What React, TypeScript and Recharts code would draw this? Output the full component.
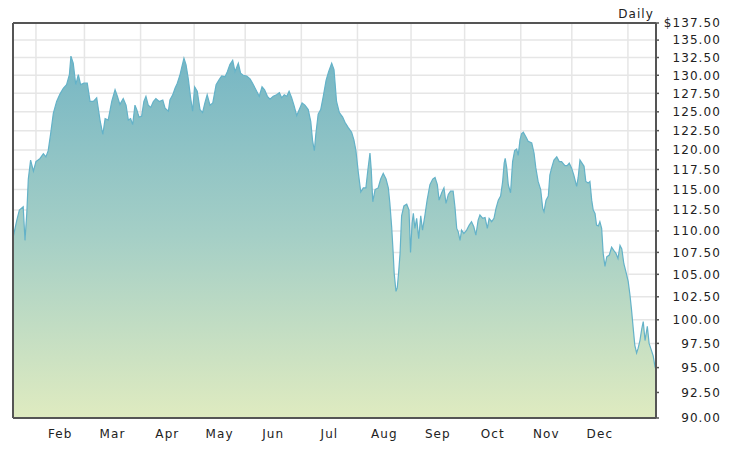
import React from 'react';
import { AreaChart, Area, XAxis, YAxis, CartesianGrid, ReferenceLine } from 'recharts';

// trading-day position of each reading (0 = first day shown)
const tradingDay = [
  0, 1.5, 2.5, 4.0, 4.7, 5.4, 6.0, 6.9, 8.0, 9.0, 10.6, 11.9, 12.9, 13.8, 14.8, 15.8, 17.1, 18.4, 19.7, 21.0,
  22.1, 22.7, 23.6, 24.6, 25.6, 26.5, 27.8, 29.1, 30.2, 31.5, 32.8, 34.1, 35.2, 36.1, 37.3, 38.7, 40.0, 40.9, 41.9, 43.2,
  44.3, 45.2, 46.1, 46.9, 47.8, 48.5, 49.4, 50.4, 51.3, 52.1, 53.0, 54.0, 55.0, 56.0, 57.3, 58.7, 59.6, 60.9, 61.5, 62.6,
  63.5, 64.4, 65.4, 66.2, 67.0, 67.8, 68.7, 69.6, 70.4, 71.2, 72.2, 73.3, 74.3, 75.2, 76.1, 77.2, 78.3, 79.6, 80.8, 81.8,
  83.1, 84.0, 85.0, 86.1, 87.0, 88.3, 89.2, 90.2, 91.6, 92.9, 93.9, 95.2, 96.5, 97.6, 98.6, 99.7, 100.7, 102.0, 103.3, 104.4,
  105.3, 106.3, 107.3, 108.2, 109.2, 110.1, 111.2, 112.2, 113.3, 114.4, 115.7, 116.7, 117.4, 118.1, 118.7, 119.6, 120.6, 121.6, 122.7, 123.7,
  124.9, 125.8, 126.8, 127.9, 129.2, 130.1, 131.4, 132.7, 133.6, 134.4, 135.3, 136.3, 137.3, 138.3, 139.1, 139.9, 140.4, 141.0, 141.9, 143.1,
  144.1, 145.1, 146.2, 147.1, 147.7, 148.4, 149.0, 149.4, 150.1, 150.6, 151.1, 151.7, 152.3, 153.2, 154.3, 155.2, 155.8, 156.4, 156.9, 157.5,
  158.2, 159.0, 159.8, 160.5, 161.4, 162.3, 163.4, 164.5, 165.4, 166.3, 167.0, 168.0, 168.9, 169.7, 170.6, 171.5, 172.5, 173.2, 173.9, 174.5,
  175.2, 175.8, 176.7, 177.8, 178.8, 179.7, 180.6, 181.4, 182.3, 183.0, 184.1, 185.0, 185.9, 186.6, 187.6, 188.5, 189.3, 190.2, 191.1, 191.9,
  192.5, 192.9, 193.5, 194.1, 195.0, 195.8, 196.6, 197.4, 198.0, 198.7, 199.3, 200.0, 201.0, 201.9, 203.3, 204.2, 204.9, 205.8, 206.8, 207.6,
  208.1, 208.9, 209.8, 210.4, 211.1, 212.0, 213.1, 214.1, 215.0, 216.3, 217.2, 218.0, 218.9, 219.8, 220.9, 221.5, 222.2, 223.0, 223.8, 224.5,
  225.4, 226.1, 226.8, 227.4, 228.1, 228.7, 229.4, 230.0, 230.7, 231.3, 232.0, 232.7, 233.7, 234.6, 235.5, 236.3, 237.1, 237.9, 238.6, 239.4,
  240.2, 241.1, 241.8, 242.4, 243.1, 243.7, 244.4, 245.0, 245.7, 246.4, 247.0, 247.7, 248.6, 249.3, 250.3, 250.9, 251.6, 252.0,
];

// daily closing price ($)
const price = [
  109.2, 111.3, 112.5, 112.9, 108.9, 112.1, 116.3, 118.7, 117.3, 118.5, 118.9, 119.5, 119.1, 119.9, 122.2, 124.8, 126.4, 127.4, 128.2, 128.7,
  130.1, 132.7, 131.7, 128.7, 130.1, 128.7, 128.9, 128.9, 126.4, 126.4, 126.9, 123.9, 122.0, 124.1, 123.9, 126.4, 128.0, 127.1, 126.0, 126.8,
  125.9, 123.9, 124.1, 123.3, 125.9, 125.3, 124.3, 124.4, 126.4, 127.1, 125.9, 125.6, 126.4, 126.8, 126.4, 126.6, 125.5, 125.1, 126.6, 127.3,
  128.2, 128.9, 130.0, 131.2, 132.4, 131.5, 129.5, 126.9, 125.1, 128.4, 127.8, 125.3, 124.9, 126.2, 127.3, 125.9, 126.2, 128.7, 129.4, 129.9,
  129.8, 130.5, 131.5, 132.1, 130.5, 131.7, 130.3, 130.0, 129.9, 129.5, 128.9, 128.0, 127.1, 128.4, 128.0, 127.1, 126.7, 127.1, 127.3, 127.6,
  126.9, 127.3, 127.1, 127.8, 126.9, 125.9, 124.5, 125.3, 126.2, 125.9, 125.3, 123.7, 121.2, 119.9, 122.1, 124.7, 125.3, 127.1, 129.3, 130.5,
  131.7, 130.8, 126.4, 124.9, 124.3, 123.6, 122.9, 122.3, 121.3, 119.9, 117.2, 114.7, 115.2, 115.2, 117.5, 119.6, 117.5, 113.5, 115.0, 115.2,
  116.3, 117.0, 116.3, 115.2, 113.3, 110.5, 107.4, 105.1, 103.1, 103.5, 105.1, 107.4, 111.8, 113.0, 113.2, 112.5, 107.5, 110.9, 112.1, 110.3,
  111.5, 109.1, 111.8, 110.1, 111.8, 113.7, 115.6, 116.3, 116.5, 115.6, 113.7, 114.6, 115.2, 113.3, 114.4, 114.8, 114.8, 112.9, 110.3, 109.9,
  108.9, 110.1, 109.7, 110.1, 110.7, 111.1, 110.5, 109.5, 111.3, 111.9, 111.5, 111.6, 110.3, 111.5, 111.1, 111.5, 112.7, 113.7, 114.2, 116.0,
  118.3, 118.9, 117.7, 115.6, 114.6, 118.5, 119.9, 120.1, 119.3, 121.3, 122.1, 122.3, 121.7, 121.1, 120.9, 119.6, 117.7, 116.0, 115.0, 112.7,
  112.3, 113.7, 114.2, 116.8, 117.7, 118.7, 119.1, 118.5, 118.5, 118.0, 118.0, 118.3, 117.7, 116.8, 115.4, 116.5, 118.7, 118.3, 117.9, 116.0,
  115.8, 116.0, 113.7, 112.5, 112.1, 110.7, 110.6, 111.1, 110.3, 107.4, 105.9, 107.0, 107.2, 108.1, 107.7, 107.4, 106.8, 108.3, 107.9, 106.2,
  105.3, 104.2, 102.7, 101.1, 99.0, 97.3, 96.5, 97.0, 97.8, 99.0, 99.8, 97.8, 99.3, 97.5, 96.7, 96.2, 95.1, 94.8,
];

// first trading day of each month (Feb .. next Jan), in trading-day units
const monthStarts = [9, 28, 50, 71, 91, 113, 135, 156, 177, 199, 219, 241];
const monthLabels = ['Feb', 'Mar', 'Apr', 'May', 'Jun', 'Jul', 'Aug', 'Sep', 'Oct', 'Nov', 'Dec'];

const yTicks = [
  90, 92.5, 95, 97.5, 100, 102.5, 105, 107.5, 110, 112.5, 115, 117.5, 120, 122.5, 125, 127.5, 130, 132.5, 135, 137.5,
];

const X_DOMAIN: [number, number] = [0, 252];
const Y_DOMAIN: [number, number] = [90, 137.5];

const data = tradingDay.map((d, i) => ({ d, price: price[i] }));
const monthMids = monthLabels.map((_, i) => (monthStarts[i] + monthStarts[i + 1]) / 2);

const FONT = 'DejaVu Sans, Verdana, sans-serif';
const AXIS_COLOR = '#555';
const TEXT_COLOR = '#222';

const formatPrice = (v: number) => (v === Y_DOMAIN[1] ? '$' : '') + v.toFixed(2);

const PriceTick = (props: any) => {
  const { x, y, payload } = props;
  return (
    <text
      x={x + 59}
      y={y}
      dy="0.355em"
      textAnchor="end"
      fill={TEXT_COLOR}
      fontSize={12}
      fontFamily={FONT}
      letterSpacing={1.1}
    >
      {formatPrice(payload.value)}
    </text>
  );
};

export default function App() {
  return (
    <div style={{ position: 'absolute', left: 0, top: 0, width: 741, height: 450, background: '#fff' }}>
      <div
        style={{
          position: 'absolute',
          left: 0,
          top: 8,
          width: 654,
          textAlign: 'right',
          fontFamily: FONT,
          fontSize: 12,
          lineHeight: '12px',
          letterSpacing: 1.1,
          color: TEXT_COLOR,
        }}
      >
        Daily
      </div>
      <AreaChart width={741} height={450} data={data} margin={{ top: 23, right: 0, bottom: 0, left: 13 }}>
        <defs>
          <linearGradient id="priceFill" x1="0" y1="0" x2="0" y2="1">
            <stop offset="0%" stopColor="#76b6c4" />
            <stop offset="50%" stopColor="#a5cfc6" />
            <stop offset="100%" stopColor="#dfebc0" />
          </linearGradient>
        </defs>
        <XAxis
          xAxisId="grid"
          dataKey="d"
          type="number"
          domain={X_DOMAIN}
          ticks={monthStarts}
          allowDataOverflow
          hide
        />
        <CartesianGrid xAxisId="grid" stroke="#e6e6e6" strokeWidth={1.5} />
        <XAxis
          dataKey="d"
          type="number"
          domain={X_DOMAIN}
          ticks={monthMids}
          interval={0}
          allowDataOverflow
          height={32}
          tickLine={false}
          tickSize={6}
          tickMargin={5}
          axisLine={{ stroke: AXIS_COLOR, strokeWidth: 2 }}
          tickFormatter={(v: number) => monthLabels[monthMids.indexOf(v)] ?? ''}
          tick={{ fill: TEXT_COLOR, fontSize: 12, fontFamily: FONT, letterSpacing: 1.1 }}
        />
        <YAxis
          orientation="right"
          width={85}
          type="number"
          scale="log"
          domain={Y_DOMAIN}
          ticks={yTicks}
          interval={0}
          allowDataOverflow
          tickSize={3}
          tickMargin={3}
          axisLine={{ stroke: AXIS_COLOR, strokeWidth: 2 }}
          tickLine={{ stroke: AXIS_COLOR, strokeWidth: 1.5 }}
          tick={<PriceTick />}
        />
        <Area
          type="linear"
          dataKey="price"
          baseValue="dataMin"
          stroke="#64b2c8"
          strokeWidth={1.2}
          fill="url(#priceFill)"
          fillOpacity={1}
          isAnimationActive={false}
          dot={false}
          activeDot={false}
        />
        <ReferenceLine y={Y_DOMAIN[1]} stroke={AXIS_COLOR} strokeWidth={2} />
        <ReferenceLine x={X_DOMAIN[0]} stroke={AXIS_COLOR} strokeWidth={2} />
      </AreaChart>
    </div>
  );
}
